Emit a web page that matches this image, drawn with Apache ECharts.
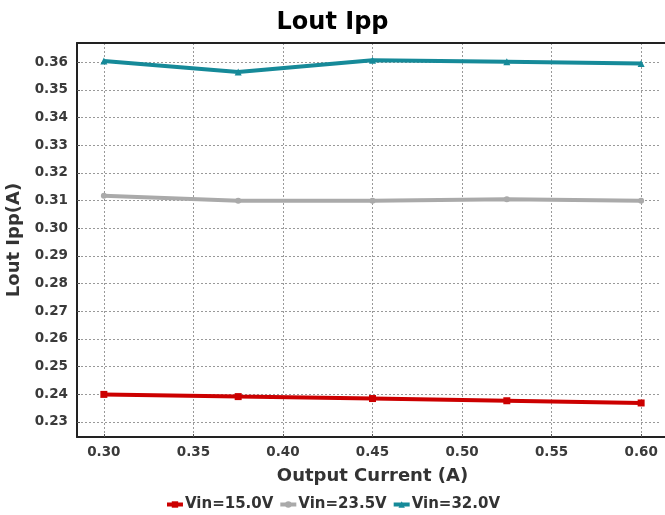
<!DOCTYPE html>
<html>
<head>
<meta charset="utf-8">
<script src="https://cdn.jsdelivr.net/npm/echarts@6/dist/echarts.min.js"></script>
<style>html,body{margin:0;padding:0;background:#fff;overflow:hidden}#c{width:665px;height:515px}</style>
</head>
<body>
<div id="c"></div>
<script>
var xValues = [0.30, 0.375, 0.45, 0.525, 0.60];
var vin150 = [0.2399, 0.2391, 0.2384, 0.2376, 0.2368];
var vin235 = [0.3117, 0.3099, 0.3099, 0.3104, 0.3099];
var vin320 = [0.3604, 0.3564, 0.3607, 0.3601, 0.3595];
var seriesNames = ['Vin=15.0V', 'Vin=23.5V', 'Vin=32.0V'];
var xTicks = [0.30, 0.35, 0.40, 0.45, 0.50, 0.55, 0.60];
var yTicks = [0.23, 0.24, 0.25, 0.26, 0.27, 0.28, 0.29, 0.30, 0.31, 0.32, 0.33, 0.34, 0.35, 0.36];

function pairs(ys) { return xValues.map(function (x, i) { return [x, ys[i]]; }); }

var font = 'DejaVu Sans';
var chart = echarts.init(document.getElementById('c'), null, {renderer: 'canvas'});
var gridLine = {show: true, lineStyle: {color: '#999', width: 1, type: [2, 2]}};
var lbl = {fontFamily: font, fontWeight: 'bold', fontSize: 13.5, color: '#3a3a3a'};
var frame = {show: true, onZero: false, lineStyle: {color: '#222', width: 2}};

function mkSeries(name, ys, color, symbol, size) {
  return {
    name: name, type: 'line', data: pairs(ys),
    symbol: symbol, symbolSize: size, showSymbol: true,
    lineStyle: {color: color, width: 4},
    itemStyle: {color: color},
    animation: false
  };
}

chart.setOption({
  animation: false,
  title: {
    text: 'Lout Ipp', left: 'center', top: 6,
    textStyle: {fontFamily: font, fontWeight: 'bold', fontSize: 24, color: '#000'}
  },
  grid: {left: 77, top: 43, width: 591, height: 394, outerBoundsMode: 'none', containLabel: false},
  xAxis: [{
    type: 'value', min: 0.285, max: 0.615,
    name: 'Output Current (A)', nameLocation: 'middle', nameGap: 30,
    nameTextStyle: {fontFamily: font, fontWeight: 'bold', fontSize: 18, color: '#333'},
    axisLine: frame,
    axisTick: {show: true, inside: true, length: 3, lineStyle: {color: '#555'}, customValues: xTicks},
    axisLabel: Object.assign({customValues: xTicks, margin: 8, formatter: function (v) { return v.toFixed(2); }}, lbl),
    splitLine: gridLine
  }, {
    type: 'value', position: 'top', min: 0.285, max: 0.615,
    axisLine: frame, axisTick: {show: false}, axisLabel: {show: false}, splitLine: {show: false}
  }],
  yAxis: {
    type: 'value', min: 0.2245, max: 0.3669,
    name: 'Lout Ipp(A)', nameLocation: 'middle', nameGap: 42,
    nameTextStyle: {fontFamily: font, fontWeight: 'bold', fontSize: 18, color: '#333'},
    axisLine: frame,
    axisTick: {show: true, inside: true, length: 3, lineStyle: {color: '#555'}, customValues: yTicks},
    axisLabel: Object.assign({customValues: yTicks, margin: 9, formatter: function (v) { return v.toFixed(2); }}, lbl),
    splitLine: gridLine
  },
  legend: {
    top: 492, left: 'center', itemWidth: 16, itemHeight: 8, itemGap: 5,
    lineStyle: {width: 4},
    textStyle: {fontFamily: font, fontWeight: 'bold', fontSize: 15, color: '#333', padding: [0, 0, 0, -3]},
    data: seriesNames
  },
  graphic: [{
    type: 'rect', z: 100, silent: true,
    shape: {x: 661, y: 44.5, width: 10, height: 391},
    style: {fill: '#ffffff'}
  }],
  series: [
    mkSeries(seriesNames[0], vin150, '#cc0000', 'rect', 7),
    mkSeries(seriesNames[1], vin235, '#aaaaaa', 'circle', 6),
    mkSeries(seriesNames[2], vin320, '#168a99', 'triangle', 7)
  ]
});
</script>
</body>
</html>
